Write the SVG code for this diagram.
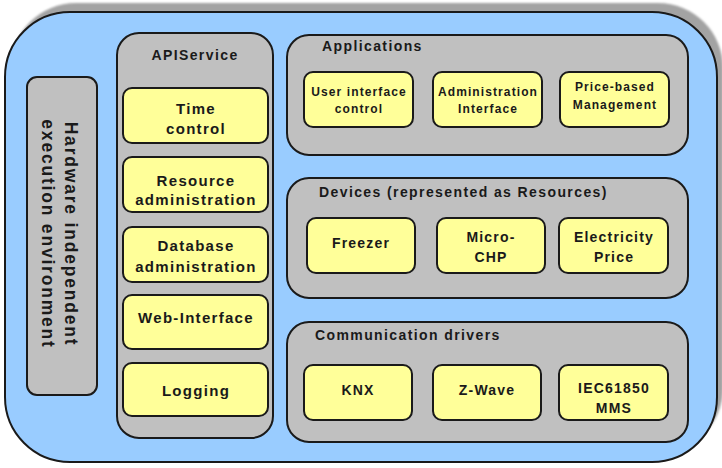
<svg xmlns="http://www.w3.org/2000/svg" width="722" height="468" viewBox="0 0 722 468">
<defs>
<style>
text{font-family:"Liberation Sans",Arial,sans-serif;font-weight:bold;fill:#1a1a1a}
.panel{fill:#c0c0c0;stroke:#1a1a1a;stroke-width:2}
.box{fill:#ffff99;stroke:#1a1a1a;stroke-width:2}
.t15{font-size:15px;letter-spacing:1.3px;text-anchor:middle}
.t14{font-size:14px;letter-spacing:1.2px;text-anchor:middle}
.t12{font-size:12px;letter-spacing:1.1px;text-anchor:middle}
.title{font-size:14px;letter-spacing:1.4px}
.vert{font-size:17.5px;letter-spacing:1.8px;text-anchor:middle}
</style>
<filter id="blur" x="-5%" y="-5%" width="110%" height="110%"><feGaussianBlur stdDeviation="1.2"/></filter>
</defs>
<rect width="722" height="468" fill="#ffffff"/>
<g id="frame">
<rect x="11" y="3" width="712" height="450" rx="65" fill="#a3a3a3" filter="url(#blur)"/>
<rect x="5" y="12" width="712" height="450" rx="65" fill="#99ccff" stroke="#1a1a1a" stroke-width="2"/>
</g>
<g id="hw-env">
<rect class="panel" x="27" y="77" width="70" height="318" rx="10"/>
<g transform="translate(65,234) rotate(90)">
<text class="vert" x="0" y="0">Hardware independent</text>
<text class="vert" x="0" y="23">execution environment</text>
</g>
</g>
<g id="api-service">
<rect class="panel" x="117" y="33" width="156" height="405" rx="22"/>
<text class="title" x="195" y="60" text-anchor="middle">APIService</text>
</g>
<g id="time-control">
<rect class="box" x="123" y="88" width="145" height="55" rx="9"/>
<text class="t15" x="196" y="113.5">Time</text>
<text class="t15" x="196" y="134">control</text>
</g>
<g id="resource-admin">
<rect class="box" x="123" y="157" width="145" height="55" rx="9"/>
<text class="t15" x="196" y="185.5">Resource</text>
<text class="t15" x="196" y="205">administration</text>
</g>
<g id="database-admin">
<rect class="box" x="123" y="227" width="145" height="55" rx="9"/>
<text class="t15" x="196" y="250.5">Database</text>
<text class="t15" x="196" y="271.5">administration</text>
</g>
<g id="web-interface">
<rect class="box" x="123" y="295" width="145" height="54" rx="9"/>
<text class="t15" x="196" y="322.5">Web-Interface</text>
</g>
<g id="logging">
<rect class="box" x="123" y="363" width="145" height="53" rx="9"/>
<text class="t15" x="196" y="396">Logging</text>
</g>
<g id="applications">
<rect class="panel" x="287" y="35" width="401" height="120" rx="22"/>
<text class="title" x="322" y="51">Applications</text>
</g>
<g id="ui-control">
<rect class="box" x="304" y="72" width="109" height="55" rx="9"/>
<text class="t12" x="359" y="95.5">User interface</text>
<text class="t12" x="359" y="113">control</text>
</g>
<g id="admin-interface">
<rect class="box" x="433" y="72" width="109" height="55" rx="9"/>
<text class="t12" x="488" y="95.5">Administration</text>
<text class="t12" x="488" y="113">Interface</text>
</g>
<g id="price-management">
<rect class="box" x="560" y="72" width="109" height="55" rx="9"/>
<text class="t12" x="615" y="91">Price-based</text>
<text class="t12" x="615" y="108.5">Management</text>
</g>
<g id="devices">
<rect class="panel" x="287" y="178" width="401" height="120" rx="22"/>
<text class="title" x="319" y="197">Devices (represented as Resources)</text>
</g>
<g id="freezer">
<rect class="box" x="307" y="218" width="108" height="55" rx="9"/>
<text class="t14" x="361" y="248">Freezer</text>
</g>
<g id="micro-chp">
<rect class="box" x="437" y="218" width="108" height="55" rx="9"/>
<text class="t14" x="491" y="241.5">Micro-</text>
<text class="t14" x="491" y="261.5">CHP</text>
</g>
<g id="electricity-price">
<rect class="box" x="559" y="218" width="109" height="55" rx="9"/>
<text class="t14" x="614" y="241.5">Electricity</text>
<text class="t14" x="614" y="261.5">Price</text>
</g>
<g id="comm-drivers">
<rect class="panel" x="287" y="322" width="401" height="120" rx="22"/>
<text class="title" x="315" y="340">Communication drivers</text>
</g>
<g id="knx">
<rect class="box" x="304" y="365" width="108" height="55" rx="9"/>
<text class="t14" x="358" y="395">KNX</text>
</g>
<g id="z-wave">
<rect class="box" x="433" y="365" width="108" height="55" rx="9"/>
<text class="t14" x="487" y="395">Z-Wave</text>
</g>
<g id="iec61850">
<rect class="box" x="559" y="365" width="109" height="55" rx="9"/>
<text class="t14" x="614" y="393">IEC61850</text>
<text class="t14" x="614" y="412.5">MMS</text>
</g>
</svg>
